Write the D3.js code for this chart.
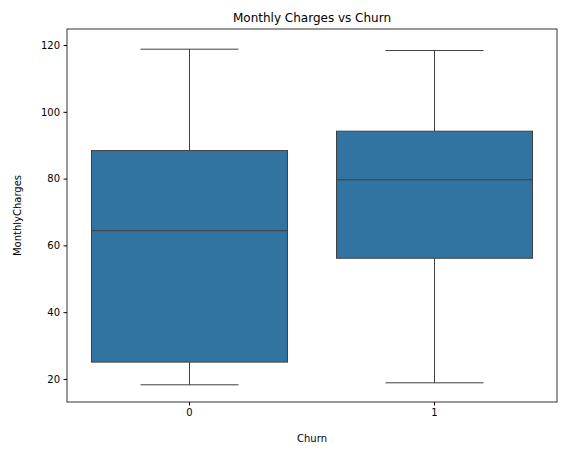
<!DOCTYPE html><html><head><script src="https://cdn.jsdelivr.net/npm/d3@7"></script>
<style>body{margin:0;background:#fff}text{font-family:"DejaVu Sans",sans-serif}</style></head><body>
<script>
const categories=["0","1"];
const mins=[18.25,18.85];
const q1s=[25.05,56.15];
const medians=[64.4,79.65];
const q3s=[88.4,94.2];
const maxs=[118.75,118.35];
const yTicks=[20,40,60,80,100,120];
const W=571,H=455,m={l:67,r:14,t:29,b:53};
const svg=d3.select("body").append("svg").attr("width",W).attr("height",H);
const x=d3.scaleBand().domain(categories).range([m.l,W-m.r]);
const y=d3.scaleLinear().domain([13.1,124.8]).range([H-m.b,m.t]);
const bw=x.bandwidth()*0.8,c="#3f3f3f";
categories.forEach((k,i)=>{
 const cx=x(k)+x.bandwidth()/2,g=svg.append("g");
 g.append("line").attr("x1",cx).attr("x2",cx).attr("y1",y(mins[i])).attr("y2",y(q1s[i])).attr("stroke",c);
 g.append("line").attr("x1",cx).attr("x2",cx).attr("y1",y(q3s[i])).attr("y2",y(maxs[i])).attr("stroke",c);
 [mins[i],maxs[i]].forEach(v=>g.append("line").attr("x1",cx-bw/4).attr("x2",cx+bw/4).attr("y1",y(v)).attr("y2",y(v)).attr("stroke",c));
 g.append("rect").attr("x",cx-bw/2).attr("width",bw).attr("y",y(q3s[i])).attr("height",y(q1s[i])-y(q3s[i])).attr("fill","#3274a1").attr("stroke",c);
 g.append("line").attr("x1",cx-bw/2).attr("x2",cx+bw/2).attr("y1",y(medians[i])).attr("y2",y(medians[i])).attr("stroke",c);
});
const ya=svg.append("g").attr("transform",`translate(${m.l},0)`).call(d3.axisLeft(y).tickValues(yTicks).tickSize(3.5).tickPadding(3.5));
const xa=svg.append("g").attr("transform",`translate(0,${H-m.b})`).call(d3.axisBottom(x).tickSize(3.5).tickPadding(3.5));
[ya,xa].forEach(a=>{a.selectAll("text").attr("font-size",10).attr("fill","#000");a.select(".domain").remove();});
svg.append("rect").attr("x",m.l).attr("y",m.t).attr("width",W-m.l-m.r).attr("height",H-m.t-m.b).attr("fill","none").attr("stroke","#000").attr("stroke-width",0.8);
svg.append("text").attr("x",(m.l+W-m.r)/2).attr("y",22).attr("text-anchor","middle").attr("font-size",12).text("Monthly Charges vs Churn");
svg.append("text").attr("x",(m.l+W-m.r)/2).attr("y",442).attr("text-anchor","middle").attr("font-size",10).text("Churn");
svg.append("text").attr("transform",`translate(21,${(m.t+H-m.b)/2}) rotate(-90)`).attr("text-anchor","middle").attr("font-size",10).text("MonthlyCharges");
</script></body></html>
